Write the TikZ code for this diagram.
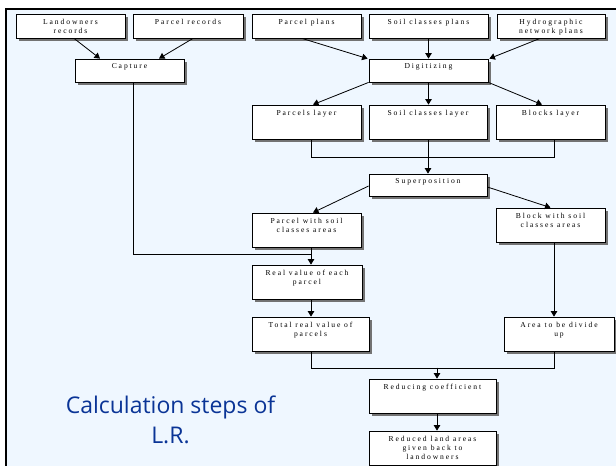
\documentclass[tikz,border=0pt]{standalone}
\usepackage{fontspec}
\setmainfont{Liberation Serif}
\newfontfamily\boxfamily[LetterSpace=25]{Liberation Serif}
\newfontfamily\titlefamily{Open Sans}
\usetikzlibrary{arrows.meta,calc,shadows}
\definecolor{bgblue}{HTML}{EFF7FF}
\definecolor{titleblue}{HTML}{0A3496}
\begin{document}
\begin{tikzpicture}[x=1pt,y=-1pt,
  boxstyle/.style={draw=black, line width=0.8pt, fill=white, inner sep=0pt,
    drop shadow={shadow xshift=3pt, shadow yshift=-3pt, fill=black!55, opacity=1}},
  boxtext/.style={anchor=north, yshift=-5pt, inner sep=0pt, align=center,
    font=\boxfamily\fontsize{7.6}{9}\selectfont, text=black},
  conn/.style={draw=black, line width=0.8pt},
  arr/.style={conn, -{Triangle[length=5.5pt,width=6.5pt]}}
]
\useasboundingbox (0,0) rectangle (616,466);
\fill[white] (0,0) rectangle (616,466);
\fill[bgblue] (6,9) rectangle (616,466);
\draw[line width=2pt] (6,466) -- (6,8.5) -- (616,8.5);

\newcommand{\mybox}[6]{%
  \node[boxstyle, minimum width=#4pt, minimum height=#5pt,
        label={[boxtext]north:#6}] (#1) at (#2,#3) {};}

\mybox{landowners}{70.5}{26}{109}{24}{Landowners\\records}
\mybox{precords}{188}{26}{110}{24}{Parcel records}
\mybox{pplans}{306.5}{26}{109}{24}{Parcel plans}
\mybox{soilplans}{428.5}{26}{119}{24}{Soil classes plans}
\mybox{hydro}{551}{26}{108}{24}{Hydrographic\\network plans}
\mybox{capture}{129.5}{70.5}{109}{23}{Capture}
\mybox{digit}{428.5}{70.5}{119}{23}{Digitizing}
\mybox{player}{306.5}{122}{109}{34}{Parcels layer}
\mybox{slayer}{428}{122}{118}{34}{Soil classes layer}
\mybox{blayer}{550.5}{122}{109}{34}{Blocks layer}
\mybox{superpos}{428}{185}{118}{22}{Superposition}
\mybox{pws}{306.5}{230}{109}{34}{Parcel with soil\\classes areas}
\mybox{bws}{550.5}{225}{109}{34}{Block with soil\\classes areas}
\mybox{realv}{307}{282}{110}{34}{Real value of each\\parcel}
\mybox{total}{310.5}{334}{117}{34}{Total real value of\\parcels}
\mybox{area}{559}{334}{110}{34}{Area to be divide\\up}
\mybox{reducing}{432.5}{396}{127}{34}{Reducing coefficient}
\mybox{reduced}{432.5}{448}{127}{34}{Reduced land areas\\given back to\\landowners}

% top row to capture / digitizing
\draw[arr] ($(landowners.south)+(3.5,0)$) -- ($(capture.north)+(-29.5,0)$);
\draw[arr] ($(precords.south)+(5,0)$) -- ($(capture.north)+(29.5,0)$);
\draw[arr] ($(pplans.south)+(-4.5,0)$) -- ($(digit.north west)+(-1,0)$);
\draw[arr] (soilplans.south) -- (digit.north);
\draw[arr] ($(hydro.south)+(-11,0)$) -- ($(digit.north east)+(1,0)$);

% digitizing to layers
\draw[arr] (digit.south west) -- ($(player.north)+(6.5,0)$);
\draw[arr] (digit.south) -- (digit.south |- slayer.north);
\draw[arr] (digit.south east) -- ($(blayer.north)+(-8.5,0)$);

% layers to superposition
\draw[conn] ($(player.south)+(4.5,0)$) -- ++(0,18) -| ($(blayer.south)+(3.5,0)$);
\draw[arr] (slayer.south) -- (slayer.south |- superpos.north);

% superposition to results
\draw[arr] ($(superpos.west)+(0,1)$) -- ($(pws.north)+(6.5,0)$);
\draw[arr] ($(superpos.east)+(0,2)$) -- (bws.north);

% capture joins
\coordinate (j1) at ($(pws.south)+(4.5,7)$);
\draw[conn] ($(capture.south)+(3.5,0)$) |- (j1);
\draw[arr] ($(pws.south)+(4.5,0)$) -- ($(realv.north)+(4,0)$);
\draw[arr] ($(realv.south)+(4,0)$) -- ($(total.north)+(0.5,0)$);
\draw[arr] ($(bws.south)+(3.5,0)$) -- ($(area.north)+(-5,0)$);

% to reducing coefficient
\coordinate (j2) at ($(reducing.north)+(4.5,-11)$);
\draw[conn] ($(total.south)+(0.5,0)$) -- ++(0,17) -| ($(area.south)+(-5,0)$);
\draw[arr] (j2) -- ($(reducing.north)+(4.5,0)$);
\draw[arr] ($(reducing.south)+(4.5,0)$) -- ($(reduced.north)+(4.5,0)$);

\node[anchor=north, align=center, text=titleblue, inner sep=0pt,
      font=\titlefamily\fontsize{23}{30}\selectfont] (title) at (170.5,396)
      {Calculation steps of\\L.R.};
\end{tikzpicture}
\end{document}
